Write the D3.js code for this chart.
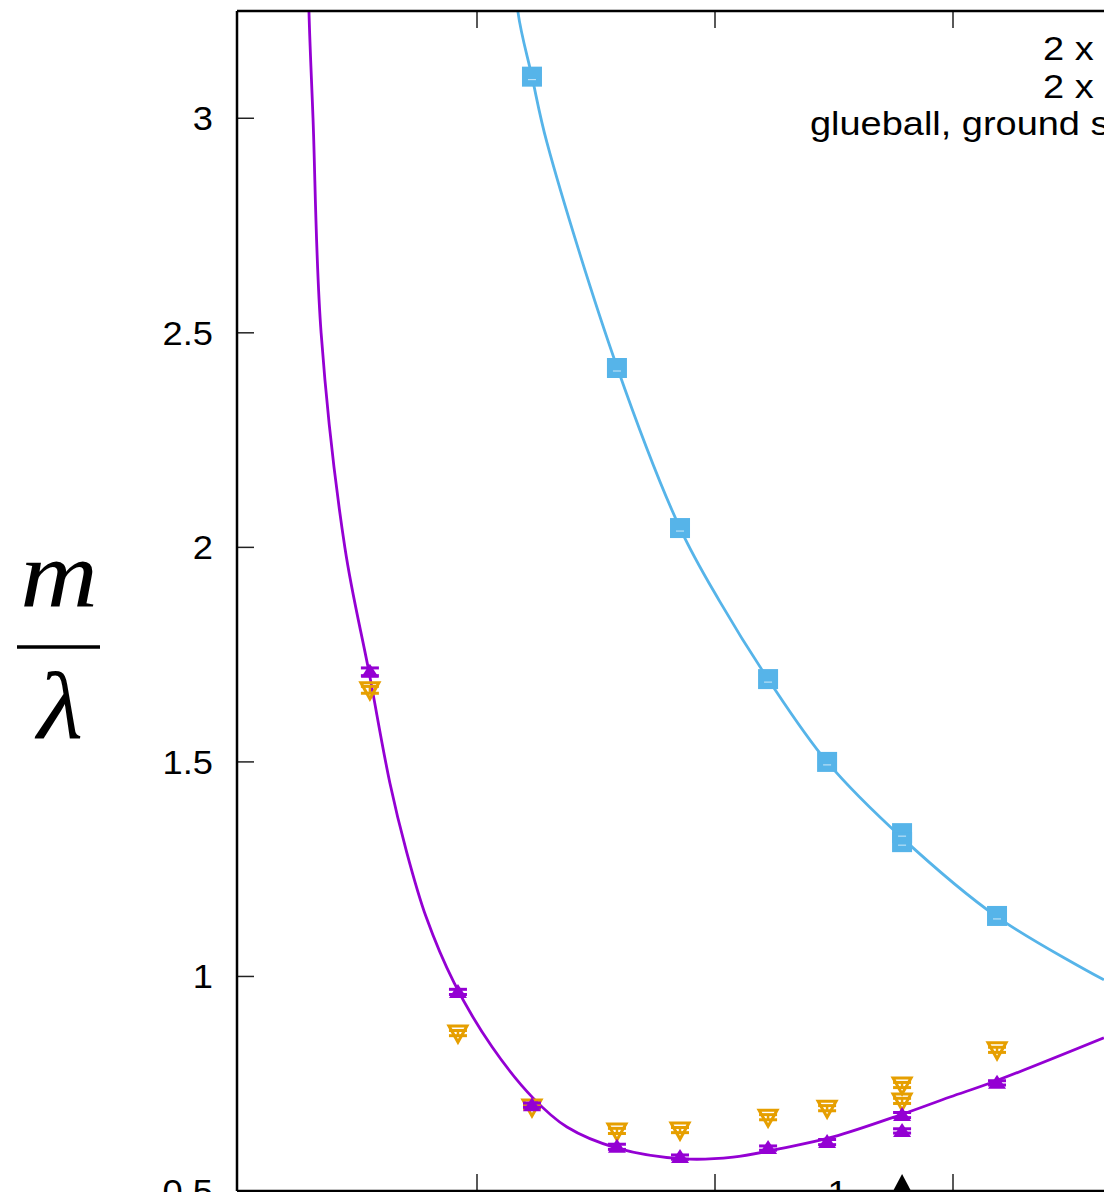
<!DOCTYPE html>
<html>
<head>
<meta charset="utf-8">
<script src="https://cdn.jsdelivr.net/npm/d3@7"></script>
<style>
  body { margin: 0; background: #fff; }
  svg { display: block; }
  .tick-label { font-family: "Liberation Sans", Arial, sans-serif; font-size: 33px; fill: #000; }
  .key { font-family: "Liberation Sans", Arial, sans-serif; font-size: 33px; fill: #000; }
</style>
</head>
<body>
<div id="plot"></div>
<script>
// tick values (x labels fall below the visible crop)
const xTicks = [2, 3, 4],
      yTicks = [0.5, 1, 1.5, 2, 2.5, 3]

// purple: filled up triangles
const purpleX = [1.550, 1.920, 2.231, 2.588, 2.853, 3.223, 3.471, 3.786, 3.786, 4.185],
      purpleY = [1.710, 0.964, 0.700, 0.603, 0.579, 0.600, 0.614, 0.677, 0.640, 0.752],
      purpleErr = [0.009, 0.006, 0.005, 0.006, 0.005, 0.005, 0.006, 0.006, 0.005, 0.005]

// orange: open down triangles
const orangeX = [1.550, 1.920, 2.231, 2.588, 2.853, 3.223, 3.471, 3.786, 3.786, 4.185],
      orangeY = [1.668, 0.868, 0.696, 0.640, 0.642, 0.672, 0.693, 0.747, 0.710, 0.829],
      orangeErr = [0.008, 0.006, 0.005, 0.006, 0.006, 0.006, 0.006, 0.006, 0.006, 0.006]

// blue: squares
const blueX = [2.231, 2.588, 2.853, 3.223, 3.471, 3.786, 3.786, 4.185],
      blueY = [3.097, 2.418, 2.045, 1.693, 1.500, 1.334, 1.313, 1.141]

// fitted curves
const fitPurpleX = [1.282, 1.294, 1.311, 1.345, 1.445, 1.546, 1.634, 1.702, 1.786, 1.904, 2.063, 2.235, 2.378, 2.588, 2.866, 3.076, 3.286, 3.496, 3.777, 3.987, 4.168, 4.634],
      fitPurpleY = [3.600, 3.248, 3.000, 2.500, 1.999, 1.710, 1.451, 1.295, 1.139, 0.985, 0.836, 0.717, 0.649, 0.600, 0.575, 0.579, 0.600, 0.626, 0.677, 0.719, 0.754, 0.857]
const fitBlueX = [2.150, 2.172, 2.231, 2.294, 2.588, 2.853, 3.021, 3.223, 3.471, 3.786, 4.185, 4.634],
      fitBlueY = [3.450, 3.248, 3.097, 2.943, 2.421, 2.045, 1.873, 1.693, 1.500, 1.323, 1.139, 0.992]

const keyLabels = ["2 x", "2 x", "glueball, ground state"]
const markerX = 3.786   // black triangle on the x axis
const noteX = 3.515, noteText = "1"

const purple = "#9400d3", blue = "#56b4e9", orange = "#e69f00"

const W = 1104, H = 1192,
      plotLeft = 237, plotTop = 11, plotBottom = 1191, plotRight = 1300

const x = d3.scaleLinear().domain([1, 4]).range([239, 953]),
      y = d3.scaleLinear().domain([0.5, 3.25]).range([1191, 11])

const svg = d3.select("#plot").append("svg")
  .attr("width", W)
  .attr("height", H)

svg.append("clipPath")
  .attr("id", "area-clip")
  .append("rect")
  .attr("x", plotLeft)
  .attr("y", plotTop)
  .attr("width", plotRight - plotLeft)
  .attr("height", plotBottom - plotTop)

// ticks, inward on all sides
const tickLen = 17
svg.append("g")
  .selectAll("line")
  .data(yTicks)
  .join("line")
  .attr("x1", plotLeft)
  .attr("x2", plotLeft + tickLen)
  .attr("y1", d => y(d))
  .attr("y2", d => y(d))
  .attr("stroke", "#222")
  .attr("stroke-width", 1.5)

svg.append("g")
  .selectAll("line")
  .data(xTicks)
  .join("line")
  .attr("x1", d => x(d))
  .attr("x2", d => x(d))
  .attr("y1", plotTop)
  .attr("y2", plotTop + tickLen)
  .attr("stroke", "#222")
  .attr("stroke-width", 1.5)

svg.append("g")
  .selectAll("line")
  .data(xTicks)
  .join("line")
  .attr("x1", d => x(d))
  .attr("x2", d => x(d))
  .attr("y1", plotBottom)
  .attr("y2", plotBottom - tickLen)
  .attr("stroke", "#222")
  .attr("stroke-width", 1.5)

// y tick labels
svg.append("g")
  .selectAll("text")
  .data(yTicks)
  .join("text")
  .attr("class", "tick-label")
  .attr("text-anchor", "end")
  .attr("transform", d => `translate(213, ${y(d) + 12}) scale(1.1, 1)`)
  .text(d => d)

// y axis title: m over lambda
const ylab = svg.append("g")
ylab.append("text")
  .attr("transform", "translate(59, 607) scale(1.12, 1)")
  .attr("text-anchor", "middle")
  .style("font-family", "'Liberation Serif', 'DejaVu Serif', serif")
  .style("font-style", "italic")
  .style("font-size", "96px")
  .text("m")
ylab.append("line")
  .attr("x1", 17).attr("x2", 100)
  .attr("y1", 647).attr("y2", 647)
  .attr("stroke", "#000")
  .attr("stroke-width", 3.5)
ylab.append("text")
  .attr("transform", "translate(60, 738) scale(1.1, 1)")
  .attr("text-anchor", "middle")
  .style("font-family", "'Liberation Serif', 'DejaVu Serif', serif")
  .style("font-style", "italic")
  .style("font-size", "96px")
  .text("λ")

const plot = svg.append("g").attr("clip-path", "url(#area-clip)")

// fitted curves
const line = d3.line()
  .x(d => x(d[0]))
  .y(d => y(d[1]))
  .curve(d3.curveCatmullRom.alpha(0.5))

plot.append("path")
  .datum(d3.zip(fitBlueX, fitBlueY))
  .attr("d", line)
  .attr("fill", "none")
  .attr("stroke", blue)
  .attr("stroke-width", 2.8)

plot.append("path")
  .datum(d3.zip(fitPurpleX, fitPurpleY))
  .attr("d", line)
  .attr("fill", "none")
  .attr("stroke", purple)
  .attr("stroke-width", 2.8)

// error bars helper
const errorBars = (g, xs, ys, errs, color, cap) => {
  const data = d3.zip(xs, ys, errs)
  g.selectAll(null).data(data).join("line")
    .attr("x1", d => x(d[0])).attr("x2", d => x(d[0]))
    .attr("y1", d => y(d[1] - d[2])).attr("y2", d => y(d[1] + d[2]))
    .attr("stroke", color).attr("stroke-width", 2.5)
  ;[-1, 1].forEach(s => {
    g.selectAll(null).data(data).join("line")
      .attr("x1", d => x(d[0]) - cap).attr("x2", d => x(d[0]) + cap)
      .attr("y1", d => y(d[1] + s * d[2])).attr("y2", d => y(d[1] + s * d[2]))
      .attr("stroke", color).attr("stroke-width", 3)
  })
}

// orange open down-triangles
const og = plot.append("g")
errorBars(og, orangeX, orangeY, orangeErr, orange, 9)
og.selectAll("path")
  .data(d3.zip(orangeX, orangeY))
  .join("path")
  .attr("transform", d => `translate(${x(d[0])}, ${y(d[1])})`)
  .attr("d", "M-9,-7 L9,-7 L0,9 Z")
  .attr("fill", "none")
  .attr("stroke", orange)
  .attr("stroke-width", 3)
  .attr("stroke-linejoin", "miter")

// purple filled up-triangles
const pg = plot.append("g")
errorBars(pg, purpleX, purpleY, purpleErr, purple, 9)
pg.selectAll("path")
  .data(d3.zip(purpleX, purpleY))
  .join("path")
  .attr("transform", d => `translate(${x(d[0])}, ${y(d[1])})`)
  .attr("d", "M0,-8 L9,6 L-9,6 Z")
  .attr("fill", purple)

// blue squares
const bg = plot.append("g")
bg.selectAll("rect")
  .data(d3.zip(blueX, blueY))
  .join("rect")
  .attr("x", d => x(d[0]) - 10)
  .attr("y", d => y(d[1]) - 10)
  .attr("width", 20)
  .attr("height", 20)
  .attr("fill", blue)
bg.selectAll("line")
  .data(d3.zip(blueX, blueY))
  .join("line")
  .attr("x1", d => x(d[0]) - 4)
  .attr("x2", d => x(d[0]) + 4)
  .attr("y1", d => y(d[1]) + 3)
  .attr("y2", d => y(d[1]) + 3)
  .attr("stroke", "#fff")
  .attr("stroke-opacity", 0.7)
  .attr("stroke-width", 1)

// border
svg.append("line")
  .attr("x1", plotLeft).attr("x2", W)
  .attr("y1", plotTop).attr("y2", plotTop)
  .attr("stroke", "#000").attr("stroke-width", 2.5)
svg.append("line")
  .attr("x1", plotLeft).attr("x2", W)
  .attr("y1", plotBottom).attr("y2", plotBottom)
  .attr("stroke", "#000").attr("stroke-width", 2.5)
svg.append("line")
  .attr("x1", plotLeft).attr("x2", plotLeft)
  .attr("y1", plotTop).attr("y2", plotBottom)
  .attr("stroke", "#000").attr("stroke-width", 2.5)

// marker on the axis and note
svg.append("path")
  .attr("transform", `translate(${x(markerX)}, ${plotBottom})`)
  .attr("d", "M0,-17 L18,17 L-18,17 Z")
  .attr("fill", "#000")
svg.append("text")
  .attr("class", "tick-label")
  .attr("text-anchor", "middle")
  .attr("transform", `translate(${x(noteX)}, 1204) scale(1.1, 1)`)
  .text(noteText)

// key (cut off by the right edge)
const keyStart = [1043, 1043, 810]
svg.append("g")
  .selectAll("text")
  .data(keyLabels)
  .join("text")
  .attr("class", "key")
  .attr("transform", (d, i) => `translate(${keyStart[i]}, ${60 + i * 37.5}) scale(1.15, 1)`)
  .text(d => d)
</script>
</body>
</html>
